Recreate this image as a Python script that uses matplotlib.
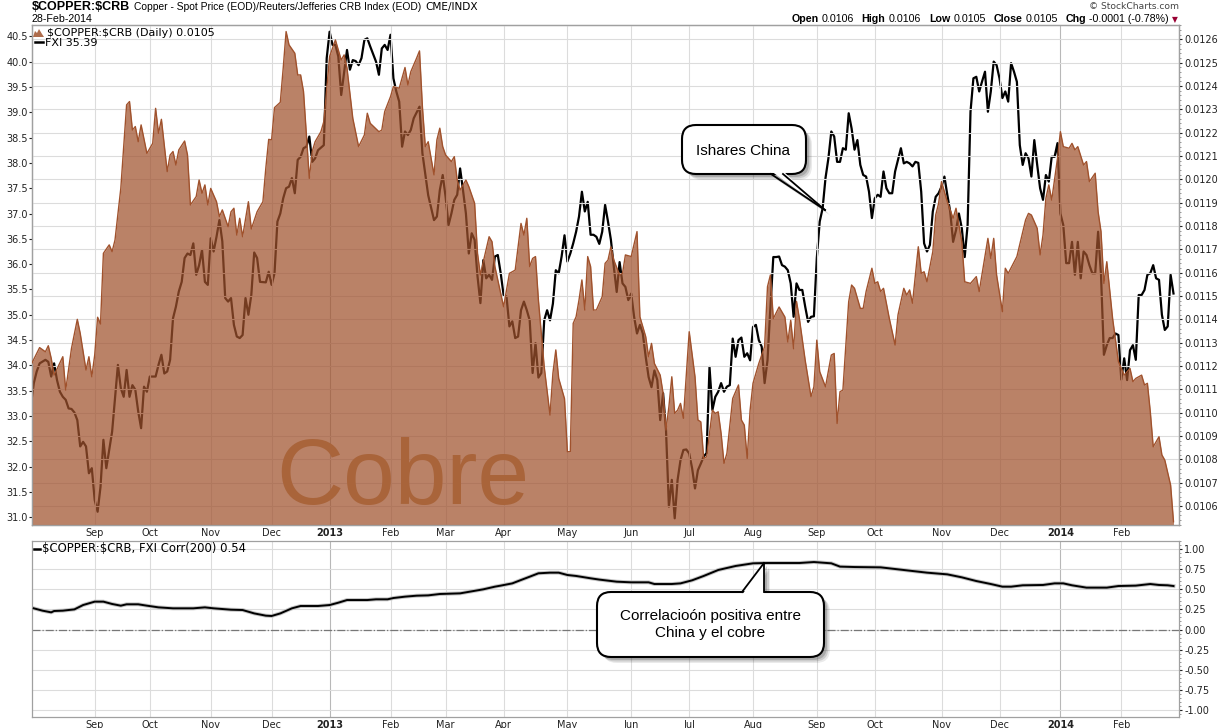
import numpy as np
import pandas as pd
import matplotlib
matplotlib.use('Agg')
import matplotlib.pyplot as plt
from matplotlib.patches import FancyBboxPatch, Polygon
from matplotlib.lines import Line2D
from matplotlib.transforms import Affine2D
from matplotlib.ticker import MultipleLocator, FormatStrFormatter

# trading sessions 1-Aug-2012 .. 28-Feb-2014 (x axis counts sessions, no weekend gaps)
holidays = ['2012-09-03', '2012-10-29', '2012-10-30', '2012-11-22', '2012-12-25',
            '2013-01-01', '2013-01-21', '2013-02-18', '2013-03-29', '2013-05-27',
            '2013-07-04', '2013-09-02', '2013-11-28', '2013-12-25', '2014-01-01',
            '2014-01-20', '2014-02-17']
sessions = pd.bdate_range('2012-08-01', '2014-02-28', freq='C', holidays=holidays)

# $COPPER:$CRB ratio (area, right scale)
cu_session = [1, 4, 6, 7, 8, 9, 12, 13, 15, 17, 18, 20, 21, 22, 23, 24, 25, 26, 28, 29,
              30, 32, 34, 35, 36, 37, 38, 39, 41, 43, 44, 45, 46, 48, 49, 50, 51, 52, 54, 55,
              56, 58, 59, 60, 61, 62, 63, 65, 66, 67, 69, 70, 71, 72, 73, 74, 76, 77, 79, 81,
              82, 83, 84, 85, 87, 88, 89, 90, 92, 93, 94, 95, 96, 97, 98, 99, 101, 102, 104, 105,
              106, 108, 109, 110, 112, 114, 116, 117, 118, 121, 122, 123, 125, 126, 128, 130, 131, 132, 134, 135,
              136, 137, 138, 140, 141, 142, 143, 144, 146, 147, 148, 149, 151, 152, 154, 155, 156, 157, 159, 160,
              161, 163, 164, 166, 168, 170, 171, 172, 173, 174, 175, 176, 178, 180, 181, 182, 183, 185, 186, 187,
              188, 189, 190, 191, 192, 193, 194, 195, 196, 198, 199, 200, 201, 202, 204, 205, 206, 208,
              210, 211, 213, 214, 215, 216, 218, 219, 220, 221, 222, 223, 224, 225, 226, 228, 230, 231, 232, 233,
              234, 236, 237, 238, 239, 240, 241, 243, 245, 246, 247, 248, 249, 250, 252, 254, 255, 256, 257, 259,
              261, 262, 263, 264, 265, 266, 268, 270, 271, 272, 273, 275, 277,
              278, 279, 280, 281, 283, 284, 285, 287, 288, 289, 291, 292, 293, 294, 295, 297, 299, 300, 302, 303,
              304, 305, 307, 308, 309, 310, 312, 313, 314, 315, 317, 318, 319, 320, 321, 322, 323, 325, 327, 328,
              331, 332, 333, 334, 336, 337, 338, 341, 344, 345, 346, 348, 349, 350, 351, 352, 353, 355, 356, 357,
              359, 360, 361, 362, 364, 365, 366, 368, 369, 370, 371, 372, 374, 376, 378, 380, 381, 382, 384, 385,
              386, 387, 388, 390, 391, 392, 394, 395]
cu_ratio = [0.011204, 0.011279, 0.011261, 0.011287, 0.011233, 0.011161, 0.011240, 0.011097, 0.011276, 0.011400,
            0.011340, 0.011183, 0.011240, 0.011154, 0.011247, 0.011409, 0.011380, 0.011683, 0.011719, 0.011690,
            0.011740, 0.011961, 0.012319, 0.012333, 0.012211, 0.012226, 0.012161, 0.012233, 0.012111, 0.012154,
            0.012304, 0.012197, 0.012257, 0.012033, 0.012104, 0.012119, 0.012061, 0.012126, 0.012164, 0.012104,
            0.011890, 0.011926, 0.011997, 0.011940, 0.011976, 0.011890, 0.011961, 0.011904, 0.011840, 0.011869,
            0.011797, 0.011861, 0.011876, 0.011761, 0.011833, 0.011754, 0.011904, 0.011787, 0.011861, 0.011904,
            0.012047, 0.012171, 0.012169, 0.012307, 0.012330, 0.012476, 0.012633, 0.012576, 0.012540, 0.012447,
            0.012447, 0.012376, 0.012190, 0.012004, 0.012119, 0.012161, 0.012204, 0.012247, 0.012526, 0.012561,
            0.012597, 0.012511, 0.012533, 0.012476, 0.012261, 0.012140, 0.012190, 0.012283, 0.012240, 0.012204,
            0.012211, 0.012290, 0.012354, 0.012397, 0.012390, 0.012479, 0.012404, 0.012461, 0.012519, 0.012550,
            0.012311, 0.012140, 0.012161, 0.012019, 0.012169, 0.012219, 0.012140, 0.012104, 0.012076, 0.012097,
            0.011997, 0.011954, 0.011997, 0.011969, 0.011897, 0.011683, 0.011590, 0.011647, 0.011754, 0.011733,
            0.011626, 0.011511, 0.011454, 0.011597, 0.011611, 0.011811, 0.011761, 0.011833, 0.011626, 0.011661,
            0.011669, 0.011483, 0.011197, 0.010990, 0.011169, 0.011269, 0.011147, 0.011060, 0.010833, 0.010833,
            0.011383, 0.011411, 0.011483, 0.011569, 0.011440, 0.011669, 0.011626, 0.011440, 0.011440, 0.011497,
            0.011640, 0.011654, 0.011711, 0.011654, 0.011590, 0.011597, 0.011676, 0.011669,
            0.011776, 0.011411, 0.011326, 0.011240, 0.011297, 0.011211, 0.011161, 0.011083, 0.010926, 0.011026,
            0.011154, 0.010997, 0.011011, 0.011040, 0.010976, 0.011347, 0.011154, 0.010969, 0.010961, 0.010804,
            0.010811, 0.011011, 0.010997, 0.011004, 0.010911, 0.010783, 0.010826, 0.011061, 0.011119, 0.010969,
            0.010947, 0.010804, 0.011011, 0.011126, 0.011211, 0.011283, 0.011540, 0.011590, 0.011403, 0.011453,
            0.011410, 0.011303, 0.011396, 0.011274, 0.011477, 0.011403, 0.011224, 0.011069, 0.011111, 0.011311,
            0.011176, 0.011111, 0.011247,
            0.011254, 0.010954, 0.011090, 0.011097, 0.011476, 0.011547, 0.011533, 0.011447, 0.011447, 0.011519,
            0.011619, 0.011554, 0.011561, 0.011519, 0.011533, 0.011404, 0.011290, 0.011419, 0.011533, 0.011504,
            0.011526, 0.011469, 0.011711, 0.011597, 0.011604, 0.011561, 0.011690, 0.011847, 0.011897, 0.011990,
            0.011904, 0.011869, 0.011833, 0.011876, 0.011804, 0.011733, 0.011561, 0.011554, 0.011583, 0.011519,
            0.011747, 0.011661, 0.011747, 0.011590, 0.011433, 0.011619, 0.011597, 0.011669, 0.011826, 0.011854,
            0.011847, 0.011790, 0.011676, 0.011761, 0.011919, 0.011976, 0.011911, 0.012090, 0.012204, 0.012140,
            0.012133, 0.012154, 0.012126, 0.012140, 0.012061, 0.012076, 0.011990, 0.012026, 0.011861, 0.011776,
            0.011554, 0.011647, 0.011404, 0.011219, 0.011161, 0.011190, 0.011133, 0.011147, 0.011161, 0.011119,
            0.011126, 0.011004, 0.010854, 0.010897, 0.010819, 0.010797, 0.010690, 0.010533]

# FXI close (line, left scale)
fxi_session = [*range(1, 5), *range(6, 81), *range(82, 101), *range(102, 109),
               *range(110, 119), *range(120, 134), 135, 136, 138, *range(140, 396)]
fxi = [33.22, 33.65, 33.88, 34.04,
       34.11, 34.07, 33.78, 34.04, 33.71, 33.48, 33.38, 33.32, 33.15, 33.14,
       33.07, 32.92, 32.40, 32.49, 32.40, 31.87, 31.97, 31.34, 31.11, 31.60,
       32.53, 31.97, 32.33, 32.69, 33.35, 34.01, 33.55, 33.38, 33.91, 33.38,
       33.61, 33.52, 33.09, 32.76, 33.58, 33.48, 33.78, 33.78, 33.78, 34.01,
       34.21, 33.84, 33.88, 34.11, 34.93, 35.16, 35.46, 35.65, 36.12, 36.21,
       36.18, 36.41, 35.79, 35.98, 36.28, 35.65, 35.59, 36.51, 36.25, 36.54,
       36.87, 36.45, 35.33, 35.26, 35.33, 34.80, 34.57, 34.54, 34.60, 35.33,
       35.00, 35.39, 36.23, 36.12, 35.65,
       35.64, 35.85, 35.59, 35.82, 36.84, 37.00, 37.30, 37.50, 37.53, 37.70,
       37.40, 38.06, 38.12, 38.29, 38.32, 38.52, 38.02, 38.09, 38.25,
       38.35, 40.07, 40.59, 40.33, 40.33, 40.10, 39.34,
       40.23, 39.84, 40.03, 40.01, 39.93, 40.07, 40.43, 40.46, 40.30,
       40.00, 39.74, 40.26, 40.33, 40.23, 40.53, 39.67, 39.41, 39.21, 38.32,
       38.62, 38.55, 38.65, 38.88,
       39.11, 38.19, 37.36,
       36.87, 36.94, 37.46, 37.76, 37.33, 36.77, 37.00, 37.27, 37.37, 37.89,
       37.46, 37.00, 36.21, 36.61, 36.48, 35.76, 35.23, 36.08, 35.72, 35.79,
       35.69, 36.15, 36.18, 35.82, 35.39, 35.36, 34.77, 34.87, 34.54, 34.57,
       35.09, 35.26, 35.09, 34.89, 33.85, 34.44, 33.76, 33.85, 34.89, 35.09,
       34.89, 35.22, 35.88, 35.82, 36.15, 36.57, 36.05, 36.21, 36.41, 36.64,
       36.94, 37.43, 37.04, 37.23, 36.58, 36.58, 36.54, 36.40, 36.64, 37.17,
       36.84, 36.48, 35.95, 35.45, 36.04, 35.62, 35.55, 35.29, 35.42, 34.96,
       34.63, 34.80, 34.63, 34.17, 33.77, 33.57, 33.90, 33.71, 32.92, 33.45,
       32.72, 31.21, 31.74, 30.98, 31.74, 32.13, 32.33, 32.34, 32.26, 31.97,
       31.57, 31.93, 32.06, 32.20, 32.27, 33.97, 33.12, 33.38, 33.48, 33.65,
       33.48, 33.58, 33.61, 34.53, 34.17, 34.50, 34.55, 34.17, 34.24, 34.10,
       34.76, 34.80, 34.50, 34.37, 33.65, 34.10, 35.15, 36.14, 36.14, 36.15,
       35.98, 35.95, 35.88, 35.62, 34.96, 35.62, 35.49, 35.49, 35.16, 34.86,
       34.96, 34.97, 36.12, 36.84, 37.10, 37.70, 38.09, 38.62, 38.52, 38.02,
       38.02, 38.29, 38.26, 38.98, 38.68, 38.26, 38.45, 37.96, 37.76, 37.73,
       37.43, 36.91, 37.30, 37.37, 37.33, 37.83, 37.50, 37.40, 37.40, 37.83,
       38.06, 38.29, 37.99, 38.02, 37.99, 37.93, 38.02, 38.00, 37.43, 36.41,
       36.25, 36.38, 37.04, 37.33, 37.40, 37.53, 37.73, 37.37, 37.04, 36.44,
       36.67, 37.00, 36.71, 36.14, 36.77, 39.01, 39.67, 39.70, 39.41, 39.61,
       39.80, 39.01, 39.41, 40.00, 39.93, 39.67, 39.28, 39.41, 39.21, 39.97,
       39.80, 39.60, 38.35, 37.96, 38.19, 38.09, 37.73, 38.45, 37.96, 37.50,
       37.27, 37.76, 37.63, 38.12, 38.12, 38.39, 37.00, 36.77, 36.02, 36.02,
       36.44, 35.79, 36.44, 35.72, 36.25, 36.18, 35.98, 35.82, 35.82, 36.64,
       35.79, 34.21, 34.40, 34.54, 34.54, 34.63, 34.60, 33.72, 34.14, 33.71,
       34.30, 34.40, 34.11, 35.39, 35.39, 35.49, 35.79, 35.82, 35.98, 35.72,
       35.69, 35.00, 34.70, 34.77, 35.79, 35.42]

# Corr(200) of $COPPER:$CRB vs FXI
corr_session = [2, 5, 8, 9, 12, 16, 19, 23, 26, 29, 32, 34, 38, 41, 45, 50, 57, 61, 64, 70,
                74, 78, 82, 84, 87, 91, 94, 100, 104, 107, 110, 117, 120, 124, 126, 130, 134, 138, 142, 149,
                153, 157, 161, 163, 167, 170, 173, 176, 180, 183, 186, 189, 194, 197, 203, 208, 214, 216, 222, 225,
                229, 233, 238, 244, 250, 255, 266, 271, 277, 280, 285, 294, 302, 310, 317, 322, 327, 332, 336, 339,
                343, 350, 354, 357, 360, 365, 372, 376, 382, 387, 390, 393, 395]
corr = [0.263, 0.234, 0.213, 0.230, 0.234, 0.250, 0.304, 0.346, 0.346, 0.317, 0.296, 0.313, 0.313, 0.296, 0.275,
        0.263, 0.263, 0.275, 0.263, 0.246, 0.242, 0.200, 0.172, 0.168, 0.200, 0.263, 0.292, 0.292, 0.304, 0.333,
        0.366, 0.366, 0.375, 0.375, 0.391, 0.408, 0.420, 0.424, 0.441, 0.449, 0.474, 0.499, 0.532, 0.545, 0.573,
        0.615, 0.656, 0.698, 0.706, 0.706, 0.677, 0.665, 0.636, 0.620, 0.594, 0.586, 0.586, 0.565, 0.565, 0.573,
        0.611, 0.665, 0.739, 0.789, 0.822, 0.826, 0.826, 0.838, 0.822, 0.781, 0.776, 0.772, 0.739, 0.706, 0.685,
        0.648, 0.602, 0.565, 0.532, 0.532, 0.549, 0.553, 0.573, 0.573, 0.549, 0.520, 0.520, 0.540, 0.545, 0.565,
        0.553, 0.549, 0.540]

W, H = 1226, 728
fig = plt.figure(figsize=(W / 100, H / 100), dpi=100)
pix = Affine2D().scale(1, -1).translate(0, H)   # figure pixels, origin top-left


def box(x0, y0, x1, y1):
    return [x0 / W, 1 - y1 / H, (x1 - x0) / W, (y1 - y0) / H]


ax = fig.add_axes(box(32.3, 25, 1179.3, 525))
ax2 = ax.twinx()
ax3 = fig.add_axes(box(32.3, 540.7, 1179.3, 716.7), sharex=ax)

brown = '#A0522D'
grid = '#dcdcdc'

starts = [i for i in range(1, len(sessions)) if sessions[i].month != sessions[i - 1].month]
mlabels = [str(sessions[i].year) if sessions[i].month == 1 else sessions[i].strftime('%b') for i in starts]

# main panel
ax.plot(fxi_session, fxi, color='black', lw=1.6, zorder=2)
ax2.fill_between(cu_session, cu_ratio, 0.0100, color=brown, alpha=0.72, lw=0, zorder=2)
ax2.plot(cu_session, cu_ratio, color=brown, lw=1, zorder=3)

ax.set_xlim(1.48, 397.0)
ax.set_ylim(30.848, 40.723)
ax.set_yticks(np.arange(31.0, 40.51, 0.5))
ax.yaxis.set_major_formatter(FormatStrFormatter('%.1f'))
ax.tick_params(axis='y', labelsize=7, length=2, pad=1, colors='#222222')

ax2.set_ylim(0.010519, 0.012661)
ax2.yaxis.set_major_locator(MultipleLocator(0.0001))
ax2.yaxis.set_minor_locator(MultipleLocator(0.00002))
ax2.yaxis.set_major_formatter(FormatStrFormatter('%.4f'))
ax2.tick_params(axis='y', which='major', labelsize=7, length=2, pad=1.5, colors='#222222')
ax2.tick_params(axis='y', which='minor', length=1.5, colors='#888888')
ax2.set_axisbelow(True)
ax2.yaxis.grid(True, color=grid, lw=0.8)

# lower panel
ax3.axhline(0, color='#777777', lw=0.9, ls='-.', zorder=1)
ax3.plot(corr_session, corr, color='#c4c4c4', lw=2.8, zorder=2)
ax3.plot(corr_session, corr, color='black', lw=1.4, zorder=3)
ax3.set_ylim(-1.083, 1.103)
ax3.yaxis.tick_right()
ax3.yaxis.set_major_locator(MultipleLocator(0.25))
ax3.yaxis.set_minor_locator(MultipleLocator(0.05))
ax3.yaxis.set_major_formatter(FormatStrFormatter('%.2f'))
ax3.tick_params(axis='y', which='major', labelsize=7, length=2, pad=1.5, colors='#222222')
ax3.tick_params(axis='y', which='minor', length=1.5, colors='#888888')
ax3.set_axisbelow(True)
ax3.yaxis.grid(True, color=grid, lw=0.8)

for a in (ax2, ax3):
    for i in starts:
        yr = sessions[i].month == 1
        a.axvline(i, color='#b8b8b8' if yr else grid, lw=0.8, zorder=0.5)

for a in (ax, ax3):
    a.set_xticks(starts)
    a.set_xticklabels(mlabels)
    a.tick_params(axis='x', length=0, pad=2.5, labelsize=7, colors='#222222')
    for t in a.get_xticklabels():
        if t.get_text().isdigit():
            t.set_fontweight('bold')

for a in (ax, ax2, ax3):
    for s in a.spines.values():
        s.set_color('#a0a0a0')
        s.set_linewidth(0.9)

# header
fig.text(32, 10, r'\$COPPER:\$CRB', transform=pix, fontsize=9, fontweight='bold',
         family='Liberation Sans', va='baseline')
fig.text(134, 9.7, 'Copper - Spot Price (EOD)/Reuters/Jefferies CRB Index (EOD)', transform=pix,
         fontsize=7.4, family='Liberation Sans', va='baseline')
fig.text(425, 9.7, 'CME/INDX', transform=pix, fontsize=7.6, va='baseline')
fig.text(32, 22.3, '28-Feb-2014', transform=pix, fontsize=7.7, family='Liberation Sans', va='baseline')
fig.text(1179, 9.3, '\u00a9 StockCharts.com', transform=pix, fontsize=6.6, color='#444444',
         ha='right', va='baseline')

rend = fig.canvas.get_renderer()
hdr = [('Open', 'bold', 0), ('0.0106', 'normal', 3), ('High', 'bold', 8), ('0.0106', 'normal', 3),
       ('Low', 'bold', 8), ('0.0105', 'normal', 3), ('Close', 'bold', 8), ('0.0105', 'normal', 3),
       ('Chg', 'bold', 8), ('-0.0001 (-0.78%)', 'normal', 3)]
x = 1169
for s, w, gap in reversed(hdr):
    t = fig.text(x, 21.7, s, transform=pix, fontsize=7.7, fontweight=w, family='Liberation Sans',
                 ha='right', va='baseline')
    x -= t.get_window_extent(rend).width + gap
fig.text(1174.5, 21.7, '\u25bc', transform=pix, fontsize=5.5, color='#990033', ha='center', va='baseline')

# legends
fig.add_artist(Polygon([(33, 37), (35, 31), (37, 33), (39, 29), (42, 34), (44, 37)], closed=True,
                       transform=pix, fc=brown, ec='none', alpha=0.85))
fig.text(47, 36.5, r'\$COPPER:\$CRB (Daily) 0.0105', transform=pix, fontsize=8, va='baseline')
fig.add_artist(Line2D([35, 43], [41.5, 41.5], transform=pix, color='black', lw=1.8))
fig.text(45, 45.5, 'FXI 35.39', transform=pix, fontsize=8, va='baseline')
fig.add_artist(Line2D([34, 40], [548.5, 548.5], transform=pix, color='black', lw=1.8))
fig.text(42, 552, r'\$COPPER:\$CRB, FXI Corr(200) 0.54', transform=pix, fontsize=8.4, va='baseline')

fig.text(276, 504, 'Cobre', transform=pix, fontsize=67, family='Liberation Sans',
         color='#A9643A', va='baseline', zorder=5)


def callout(x0, y0, x1, y1, base, tip, lines):
    for d, al in ((6, 0.10), (4.5, 0.16), (3, 0.22)):
        fig.add_artist(FancyBboxPatch((x0 + d, y0 + d), x1 - x0, y1 - y0,
                                      boxstyle='round,pad=0,rounding_size=14', transform=pix,
                                      fc='#333333', ec='none', alpha=al, zorder=10))
        fig.add_artist(Polygon([(base[0][0] + d, base[0][1] + d), (base[1][0] + d, base[1][1] + d),
                                (tip[0] + d, tip[1] + d)], closed=True, transform=pix,
                               fc='#333333', ec='none', alpha=al, zorder=10))
    fig.add_artist(FancyBboxPatch((x0, y0), x1 - x0, y1 - y0, boxstyle='round,pad=0,rounding_size=14',
                                  transform=pix, fc='white', ec='black', lw=1.5, zorder=11))
    inward = -3 if tip[1] > y1 else 3
    fig.add_artist(Polygon([(base[0][0], base[0][1] + inward), (base[1][0], base[1][1] + inward), tip],
                           closed=True, transform=pix, fc='white', ec='none', zorder=12))
    for b in base:
        fig.add_artist(Line2D([b[0], tip[0]], [b[1], tip[1]], transform=pix, color='black', lw=1.3, zorder=13))
    for tx, ty, s in lines:
        fig.text(tx, ty, s, transform=pix, ha='center', va='baseline', fontsize=11,
                 family='Liberation Sans', zorder=14)


callout(682, 125, 806, 174, [(771, 174), (783, 174)], (825, 210), [(743, 155, 'Ishares China')])
callout(597, 592, 824, 657, [(742, 592), (764, 592)], (764, 563),
        [(710, 620, 'Correlacioón positiva entre'), (710, 637.5, 'China y el cobre')])

fig.savefig('out.png', dpi=100, facecolor='white')
